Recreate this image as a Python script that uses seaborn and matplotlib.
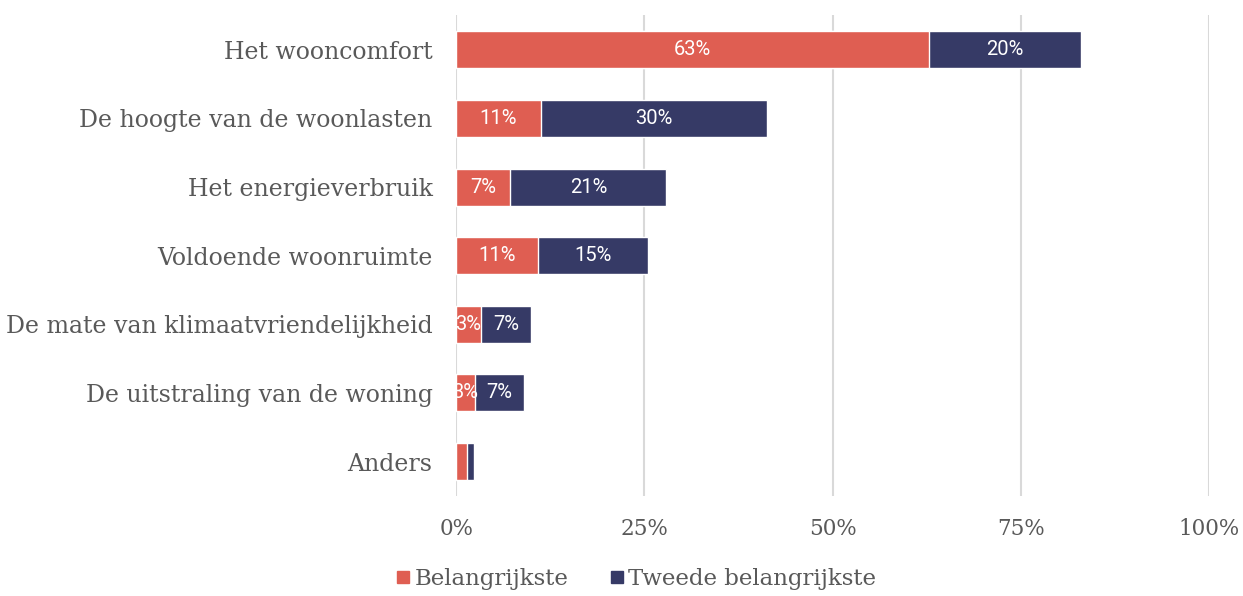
import matplotlib
matplotlib.use("Agg")
import matplotlib.pyplot as plt
from matplotlib.lines import Line2D
import pandas as pd
import seaborn as sns

categories = [
    "Het wooncomfort",
    "De hoogte van de woonlasten",
    "Het energieverbruik",
    "Voldoende woonruimte",
    "De mate van klimaatvriendelijkheid",
    "De uitstraling van de woning",
    "Anders",
]
belangrijkste = [62.8, 11.2, 7.2, 10.9, 3.3, 2.5, 1.4]
tweede = [20.1, 30.0, 20.7, 14.6, 6.6, 6.5, 0.9]
labels_first = ["63%", "11%", "7%", "11%", "3%", "3%", ""]
labels_second = ["20%", "30%", "21%", "15%", "7%", "7%", ""]
xticks = [0, 25, 50, 75, 100]

RED = "#DF5E52"
NAVY = "#363A66"
GREY = "#595959"

df = pd.DataFrame({"cat": categories, "first": belangrijkste, "second": tweede})
df["total"] = df["first"] + df["second"]

sns.set_style("white")
plt.rcParams["font.family"] = ["DejaVu Serif"]

fig = plt.figure(figsize=(12.43, 5.96), dpi=100)
ax = fig.add_axes([0.367, 0.168, 0.606, 0.806])

# stacked: draw total in navy, then first series on top
sns.barplot(data=df, y="cat", x="total", color=NAVY, width=0.54, saturation=1,
            edgecolor="white", linewidth=1, ax=ax, zorder=3)
sns.barplot(data=df, y="cat", x="first", color=RED, width=0.54, saturation=1,
            edgecolor="white", linewidth=1, ax=ax, zorder=4)

for i, row in df.iterrows():
    if labels_first[i]:
        ax.text(row["first"] / 2, i, labels_first[i], ha="center", va="center",
                color="white", fontsize=14.5, family="Roboto", zorder=5)
    if labels_second[i]:
        ax.text(row["first"] + row["second"] / 2, i, labels_second[i],
                ha="center", va="center", color="white", fontsize=14.5,
                family="Roboto", zorder=5)

ax.set_xlim(0, 100)
ax.set_ylim(6.5, -0.5)
ax.set_xticks(xticks)
ax.set_xticklabels([f"{t}%" for t in xticks])
ax.xaxis.grid(True, color="#D9D9D9", linewidth=1.5, zorder=0)
ax.set_axisbelow(True)
ax.tick_params(axis="x", labelsize=15.5, colors=GREY, length=0, pad=16)
ax.tick_params(axis="y", labelsize=17, colors=GREY, length=0, pad=17)
ax.set_xlabel("")
ax.set_ylabel("")
sns.despine(ax=ax, left=True, bottom=True)

handles = [
    Line2D([], [], marker="s", linestyle="", color=RED, markersize=9),
    Line2D([], [], marker="s", linestyle="", color=NAVY, markersize=9),
]
leg = fig.legend(handles, ["Belangrijkste", "Tweede belangrijkste"],
                 loc="lower center", bbox_to_anchor=(0.51, -0.025), ncol=2,
                 frameon=False, fontsize=16.5, handletextpad=0.0, columnspacing=1.6,
                 handlelength=1.0)
for t in leg.get_texts():
    t.set_color(GREY)

fig.savefig("out.png", dpi=100)
